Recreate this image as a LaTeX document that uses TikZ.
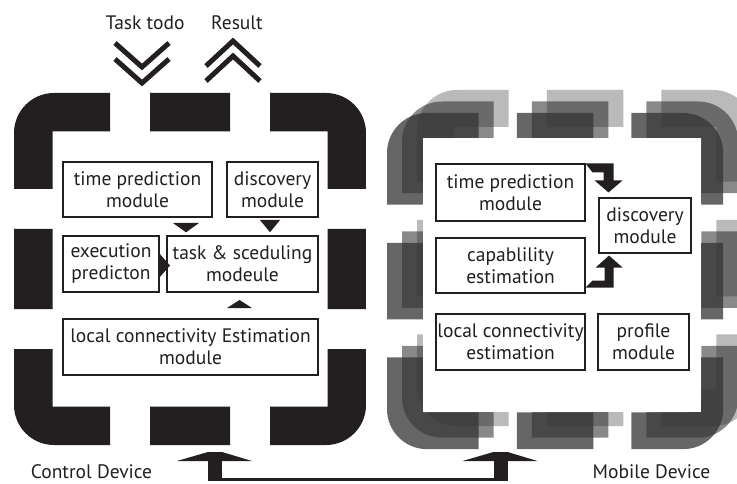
\documentclass[tikz,border=0pt]{standalone}
\usepackage{fontspec}
\setmainfont{PT Sans}
\usetikzlibrary{calc}
\definecolor{ink}{RGB}{35,31,32}
\begin{document}
\begin{tikzpicture}[x=1pt,y=-1pt,
  txt/.style={font=\fontsize{19.5}{22}\selectfont, text=ink},
  box/.style={txt, draw=ink, line width=1.1pt, fill=white, inner sep=0pt, align=center},
  lbl/.style={txt, inner sep=0pt, anchor=base},
  chev/.style={draw=ink, line width=5pt, miter limit=10},
  devframe/.pic={
    \begin{scope}
      \clip (0,0) rectangle (96,96) (136,0) rectangle (216,96) (256,0) rectangle (352,96)
            (0,136) rectangle (96,216) (256,136) rectangle (352,216)
            (0,256) rectangle (96,352) (136,256) rectangle (216,352) (256,256) rectangle (352,352);
      \fill[even odd rule, rounded corners=40pt] (0,0) rectangle (352,352)
            [sharp corners] (38.5,38.5) rectangle (313.5,313.5);
    \end{scope}
  }]
\useasboundingbox (0,0) rectangle (737,484);
\clip (0,0) rectangle (737,484);

% ---------- control device ----------
\pic[fill=ink] at (14,93) {devframe};

\node[box, minimum width=149pt, minimum height=55pt] (ltime) at (137.5,189.5) {time prediction\\module};
\node[box, minimum width=91pt,  minimum height=55pt] (ldisc) at (272.5,189.5) {discovery\\module};
\node[box, minimum width=96pt,  minimum height=56pt] (lexec) at (111,264) {execution\\predicton};
\node[box, minimum width=151pt, minimum height=56pt] (ltask) at (242.5,264) {task \& sceduling\\modeule};
\node[box, minimum width=255pt, minimum height=56pt] (lconn) at (190.5,347) {local connectivity Estimation\\module};

% flow markers into the scheduler
\fill[ink] (173,223) -- (199,223) -- (186,232.3) -- cycle;
\fill[ink] (260,220) -- (280,220) -- (270,232.3) -- cycle;
\fill[ink] (159,253) -- (170,265.5) -- (159,278) -- cycle;
\fill[ink] (227,308) -- (252,308) -- (239.5,300) -- cycle;

% input / output chevrons
\node[lbl] (todo) at (145,30) {Task todo};
\node[lbl] (result) at (237,30) {Result};
\draw[chev] (115,43) -- (142,67) -- (169,43);
\draw[chev] (115,59) -- (142,83) -- (169,59);
\draw[chev] (206,66) -- (233,41) -- (260,66);
\draw[chev] (206,81) -- (233,56) -- (260,81);

% ---------- mobile device (stacked) ----------
\pic[scale=0.955, fill=black, fill opacity=0.27] at (417,90) {devframe};
\pic[scale=0.955, fill=black!83, fill opacity=0.556] at (402,101.5) {devframe};
\pic[scale=0.955, fill=black!80, fill opacity=0.75] at (387,113) {devframe};
\fill[white] (423,138) rectangle (701,412);

\node[box, minimum width=149pt, minimum height=57pt] (rtime) at (510.5,192.5) {time prediction\\module};
\node[box, minimum width=92pt,  minimum height=55pt] (rdisc) at (645,225.5) {discovery\\module};
\node[box, minimum width=149pt, minimum height=55pt] (rcap)  at (510.5,265.5) {capablility\\estimation};
\node[box, minimum width=149pt, minimum height=56pt] (rconn) at (510.5,342) {local connectivity\\estimation};
\node[box, minimum width=91pt,  minimum height=56pt] (rprof) at (643.5,342) {profile\\module};

% elbow arrows into the discovery module
\fill[ink] (rtime.north east) -- ++(28,0) -- ++(0,17) -- ++(9,0) -- ++(-14,12) -- ++(-14,-12)
           -- ++(9,0) -- ++(0,-8) -- ++(-11,0) -- cycle;
\fill[ink] ($(rcap.south east)+(0,-6)$) -- ++(7,-7) -- ++(12,0) -- ++(0,-13) -- ++(-9,0)
           -- ++(13.5,-12) -- ++(13.5,12) -- ++(-9,0) -- ++(0,20) -- cycle;

% ---------- link between the devices ----------
\node[lbl] (ctrl) at (91.5,478) {Control Device};
\node[lbl] (mob) at (651.5,478) {Mobile Device};
\coordinate (ctrlin) at (215,452);
\coordinate (mobin) at (500.5,452);
\fill[ink] ($(ctrlin)+(-7,9)$) rectangle ($(ctrlin)+(7,29.3)$);
\fill[ink] ($(mobin)+(-7,9)$) rectangle ($(mobin)+(7,29.3)$);
\fill[ink] ($(ctrlin)+(-7,25.7)$) rectangle ($(mobin)+(7,29.3)$);
\fill[ink] ($(ctrlin)+(-38,9)$) -- ($(ctrlin)+(-7,0)$) -- ($(ctrlin)+(7,0)$) -- ($(ctrlin)+(37,9)$) -- cycle;
\fill[ink] ($(mobin)+(-38,9)$) -- ($(mobin)+(-7,0)$) -- ($(mobin)+(7,0)$) -- ($(mobin)+(37,9)$) -- cycle;
\end{tikzpicture}
\end{document}
